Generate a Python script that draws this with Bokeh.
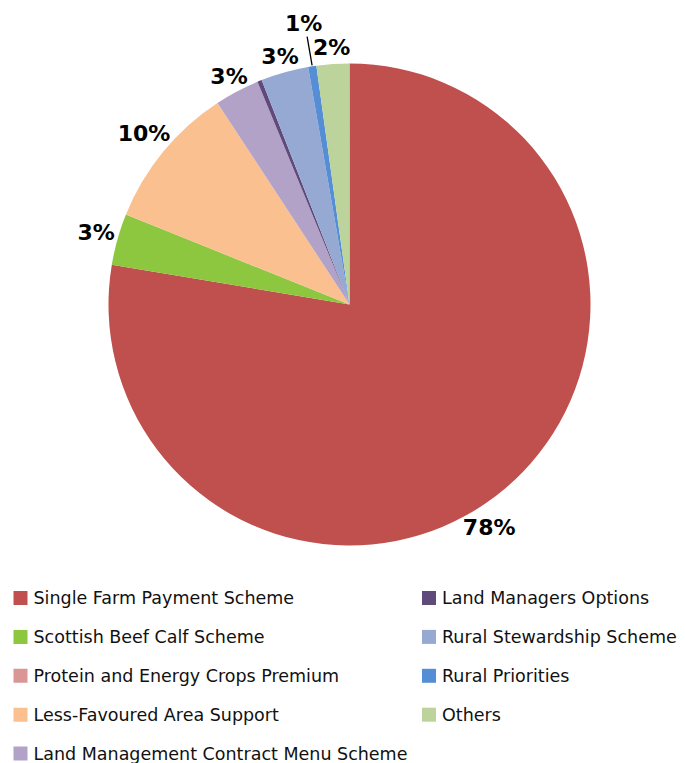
import math
from bokeh.plotting import figure
from bokeh.models import Range1d, ColumnDataSource
from bokeh.core.properties import value
from bokeh.embed import file_html
from bokeh.resources import INLINE

# ---------------- data ----------------
categories = [
    "Single Farm Payment Scheme",
    "Scottish Beef Calf Scheme",
    "Protein and Energy Crops Premium",
    "Less-Favoured Area Support",
    "Land Management Contract Menu Scheme",
    "Land Managers Options",
    "Rural Stewardship Scheme",
    "Rural Priorities",
    "Others",
]
shares = [77.8, 3.45, 0.0, 9.7, 3.0, 0.3, 3.2, 0.55, 2.2]

# ---------------- styles ----------------
colors = ["#C0504D", "#8DC63F", "#D99694", "#FAC090", "#B3A2C7",
          "#604A7B", "#95A9D3", "#558ED5", "#BCD39B"]
W, H = 686, 763
CX, CY_DOWN, R = 349, 304, 241
RL = 258                      # label radius
label_nudge = {0: (-27, 26), 1: (-5, -2), 3: (-6, -7), 7: (-6, -26)}  # px (right, down)
leader_for = {7}
LABEL_FONT = "DejaVu Sans"
LEGEND_FONT = "DejaVu Sans"

def to_y(y_down):
    return H - y_down

total = sum(shares)
wx, wy, ws, we, wc = [], [], [], [], []
lx, ly, lt = [], [], []
lead_x0, lead_y0, lead_x1, lead_y1 = [], [], [], []
cum = 0.0
for i, v in enumerate(shares):
    a0 = cum / total * 2 * math.pi
    a1 = (cum + v) / total * 2 * math.pi
    cum += v
    if v > 0:
        wx.append(CX); wy.append(to_y(CY_DOWN))
        ws.append(math.pi / 2 - a1); we.append(math.pi / 2 - a0)
        wc.append(colors[i])
    pct = v / total * 100
    if pct >= 0.5:
        mid = (a0 + a1) / 2
        dx, dy = label_nudge.get(i, (0, 0))
        x = CX + RL * math.sin(mid) + dx
        yd = CY_DOWN - RL * math.cos(mid) + dy
        lx.append(x); ly.append(to_y(yd)); lt.append(f"{int(pct + 0.5)}%")
        if i in leader_for:
            ex = CX + (R + 1) * math.sin(mid)
            ey = CY_DOWN - (R + 1) * math.cos(mid)
            lead_x0.append(ex); lead_y0.append(to_y(ey))
            lead_x1.append(x + 3.5); lead_y1.append(to_y(yd + 13))

p = figure(width=W, height=H, output_backend="svg", toolbar_location=None,
           x_range=Range1d(0, W), y_range=Range1d(0, H),
           x_axis_location=None, y_axis_location=None, min_border=0)
p.outline_line_color = None
p.grid.visible = False
p.background_fill_color = "white"
p.border_fill_color = "white"

p.wedge(x="x", y="y", radius=R, start_angle="s", end_angle="e",
        fill_color="c", line_color=None,
        source=ColumnDataSource(dict(x=wx, y=wy, s=ws, e=we, c=wc)))

p.segment(x0=lead_x0, y0=lead_y0, x1=lead_x1, y1=lead_y1,
          line_color="black", line_width=1.3)

p.text(x=lx, y=ly, text=lt, text_font=value(LABEL_FONT), text_font_style="bold",
       text_font_size="22px", text_align="center", text_baseline="middle",
       text_color="black")

# legend (two columns, filled column-wise)
sq_x, sq_y, tx, ty = [], [], [], []
for i, name in enumerate(categories):
    col, row = divmod(i, 5)
    x = 20 + col * 408.5
    yd = 597.5 + row * 38.9
    sq_x.append(x); sq_y.append(to_y(yd))
    tx.append(x + 13); ty.append(to_y(yd))
p.scatter(x=sq_x, y=sq_y, marker="square", size=14, fill_color=colors,
          line_color=None)
p.text(x=tx, y=ty, text=categories, text_font=value(LEGEND_FONT),
       text_font_size="17.5px", text_align="left", text_baseline="middle",
       text_color="#111111")

open("out.html", "w").write(file_html(p, INLINE))
